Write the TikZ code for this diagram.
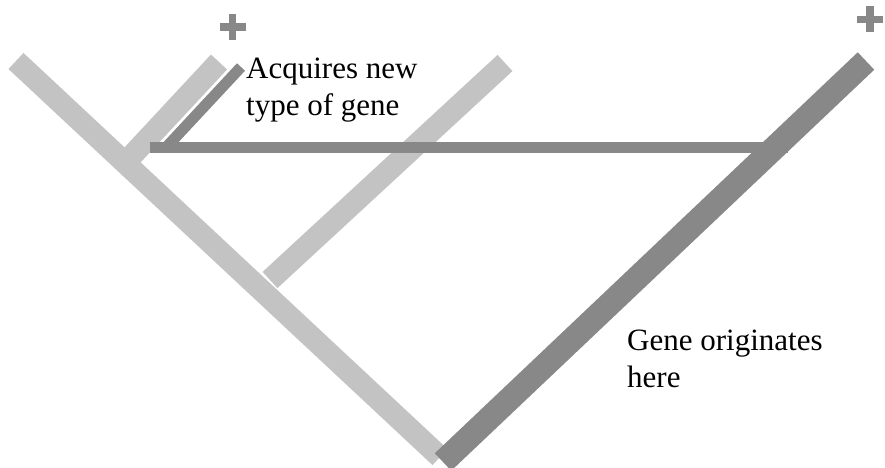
\documentclass[tikz,border=0pt]{standalone}
\usepackage{fontspec}
\setmainfont{Liberation Serif}
\definecolor{lightbranch}{RGB}{195,195,195}
\definecolor{darkbranch}{RGB}{136,136,136}
\begin{document}
\begin{tikzpicture}[x=1pt,y=-1pt,
  lightbar/.style={draw=lightbranch,line width=22pt,line cap=butt},
  darkbar/.style={draw=darkbranch,line width=24pt,line cap=butt},
  thinbar/.style={draw=darkbranch,line width=11pt,line cap=butt},
  plusmark/.style={draw=darkbranch,line width=7.5pt,line cap=butt},
  txtlabel/.style={inner sep=0pt,anchor=base west,font=\fontsize{31}{37}\selectfont\rmfamily,text=black}]
\useasboundingbox (0,0) rectangle (885,467);
% coordinates of the tree
\coordinate (topL) at (16,61);
\coordinate (rootL) at (440,457);
\coordinate (n1) at (125,163);
\coordinate (topA) at (219,62);
\coordinate (topB) at (505,63);
\coordinate (n2) at (270,280);
\coordinate (rootR) at (443,462);
\coordinate (topR) at (866,61);
\coordinate (hgtop) at (241,67);
\coordinate (hgcorner) at (166,147.5);
\coordinate (hgleft) at (150,147.5);
\coordinate (hgright) at (788,147.5);
% light lineages
\draw[lightbar] (topL) -- (rootL);
\draw[lightbar] (topA) -- (n1);
\draw[lightbar] (topB) -- (n2);
% gene transfer path
\draw[thinbar] (hgtop) -- (hgcorner);
\draw[thinbar] (hgleft) -- (hgright);
% lineage where gene originates
\draw[darkbar] (rootR) -- (topR);
% plus marks
\draw[plusmark] (232.5,14) -- (232.5,39.5) (219.5,27) -- (245.5,27);
\draw[plusmark] (870,6) -- (870,32) (857,19.5) -- (883,19.5);
% labels
\node[txtlabel] (acq1) at (246,78) {Acquires new};
\node[txtlabel] (acq2) at (246,115) {type of gene};
\node[txtlabel] (orig1) at (627,350) {Gene originates};
\node[txtlabel] (orig2) at (627,387) {here};
\end{tikzpicture}
\end{document}
